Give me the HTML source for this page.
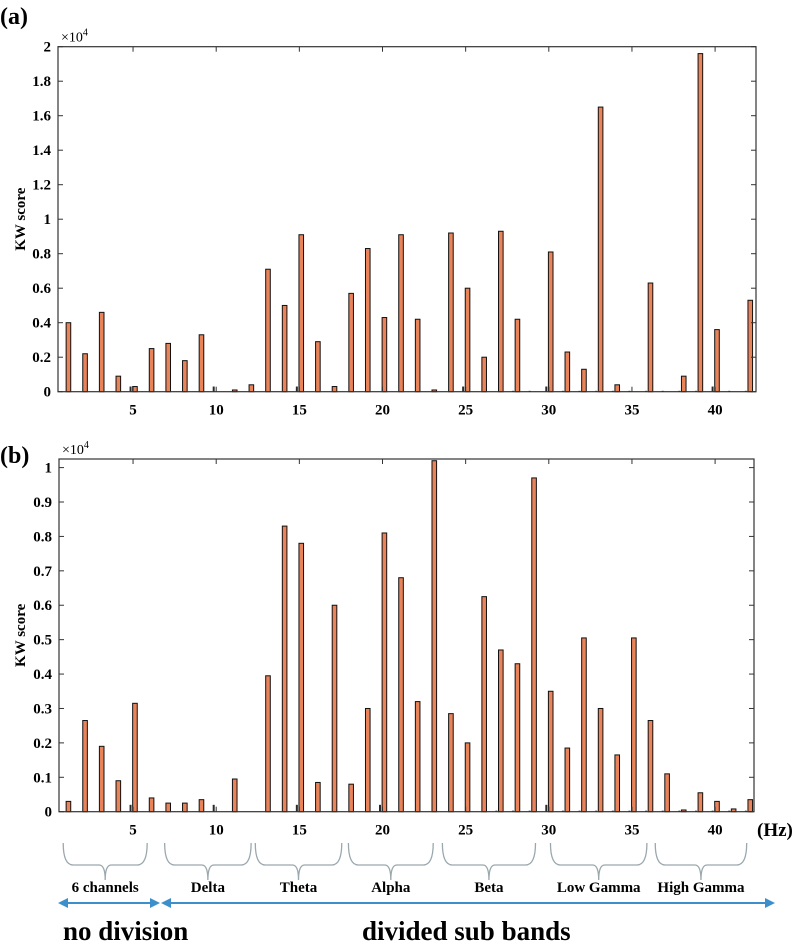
<!DOCTYPE html>
<html><head><meta charset="utf-8">
<style>
body{margin:0;background:#fff;width:800px;height:948px;overflow:hidden}
svg{display:block;font-family:"Liberation Serif",serif;font-weight:bold}
</style></head>
<body>
<svg id="s" width="800" height="948" viewBox="0 0 800 948">
<text x="0" y="24" font-size="24">(a)</text>
<text x="0" y="463" font-size="24">(b)</text>
<g id="ga"></g>
<g id="gb"></g>
<g id="ann"></g>
<text x="757" y="836" font-size="19">(Hz)</text>
<text x="63" y="940" font-size="27">no division</text>
<text x="362" y="940" font-size="27">divided sub bands</text>
</svg>
<script>
const NS="http://www.w3.org/2000/svg";
const categories=[1,2,3,4,5,6,7,8,9,10,11,12,13,14,15,16,17,18,19,20,21,22,23,24,25,26,27,28,29,30,31,32,33,34,35,36,37,38,39,40,41,42];
const valuesA=[0.40,0.22,0.46,0.09,0.03,0.25,0.28,0.18,0.33,0,0.01,0.04,0.71,0.50,0.91,0.29,0.03,0.57,0.83,0.43,0.91,0.42,0.01,0.92,0.60,0.20,0.93,0.42,0,0.81,0.23,0.13,1.65,0.04,0,0.63,0,0.09,1.96,0.36,0,0.53];
const minorA=[0,0,0,0,0.03,0,0,0,0,0.03,0,0,0,0,0.03,0,0,0,0,0,0,0,0,0,0.03,0,0,0.005,0.005,0.03,0.005,0.005,0.005,0.005,0.005,0.005,0.005,0.005,0.005,0.03,0.005,0.005];
const valuesB=[0.03,0.265,0.19,0.09,0.315,0.04,0.025,0.025,0.035,0,0.095,0,0.395,0.83,0.78,0.085,0.60,0.08,0.30,0.81,0.68,0.32,1.02,0.285,0.20,0.625,0.47,0.43,0.97,0.35,0.185,0.505,0.30,0.165,0.505,0.265,0.11,0.005,0.055,0.03,0.008,0.035];
const minorB=[0,0,0,0,0.02,0,0,0,0,0.02,0,0,0,0,0.02,0,0,0,0,0.02,0,0,0,0,0,0,0.003,0.003,0.003,0.02,0.003,0.003,0.003,0.003,0.003,0.003,0.003,0.003,0.003,0.003,0.003,0.003];
const xTicks=[5,10,15,20,25,30,35,40];
const yTicksA=[0,0.2,0.4,0.6,0.8,1,1.2,1.4,1.6,1.8,2];
const yTicksB=[0,0.1,0.2,0.3,0.4,0.5,0.6,0.7,0.8,0.9,1];
const bands=["6 channels","Delta","Theta","Alpha","Beta","Low Gamma","High Gamma"];
const bandStart=[0.8,6.9,12.35,17.95,23.6,30.1,36.4];
const bandEnd=[5.85,12.1,17.55,23.05,29.2,35.9,41.9];

function mk(tag,attrs,parent){const e=document.createElementNS(NS,tag);for(const k in attrs)e.setAttribute(k,attrs[k]);parent.appendChild(e);return e;}
const xs=v=>49.9+v*16.63;

function panel(g,top,bottom,left,right,ymax,yTicks,vals,minor,fmt,pfx){
  const ys=v=>bottom-(v/ymax)*(bottom-top);
  for(let i=0;i<categories.length;i++){
    const c=categories[i];
    if(minor[i]>0){const m=mk('rect',{x:xs(c)-3.5,y:ys(minor[i]),width:2,height:bottom-ys(minor[i]),fill:'#2a2a2a'},g);
      
      }
    if(vals[i]>0){const r=mk('rect',{x:xs(c)-0.4,y:ys(vals[i]),width:4.6,height:bottom-ys(vals[i]),fill:'#E8835A',stroke:'#111','stroke-width':1},g);
      
      }
  }
  const fr=mk('rect',{x:left,y:top,width:right-left,height:bottom-top,fill:'none',stroke:'#333','stroke-width':1.2},g);
  
  
  for(const t of xTicks){
    const x=xs(t);
    mk('line',{x1:x,x2:x,y1:bottom,y2:bottom-5,stroke:'#333'},g);
    mk('line',{x1:x,x2:x,y1:top,y2:top+5,stroke:'#333'},g);
    const tx=mk('text',{x:x,y:bottom+23,'font-size':15,'text-anchor':'middle'},g);tx.textContent=t;
    
    
  }
  for(const t of yTicks){
    const y=ys(t);
    mk('line',{x1:left,x2:left+5,y1:y,y2:y,stroke:'#333'},g);
    mk('line',{x1:right,x2:right-5,y1:y,y2:y,stroke:'#333'},g);
    const ty=mk('text',{x:left-7,y:y+5,'font-size':15,'text-anchor':'end'},g);ty.textContent=fmt(t);
    
    
  }
  const ex=mk('text',{x:left+3,y:top-5,'font-size':14,'font-weight':'normal'},g);
  ex.innerHTML='×10<tspan dy="-6" font-size="10">4</tspan>';
  
  
  const yl=mk('text',{x:0,y:0,'font-size':15,'text-anchor':'middle',transform:`translate(25,${(top+bottom)/2}) rotate(-90)`},g);yl.textContent='KW score';
  
  
}
panel(document.getElementById('ga'),46.7,391.7,58,756,2,yTicksA,valuesA,minorA,t=>t===0?'0':(Number.isInteger(t)?String(t):String(t)),'a');
panel(document.getElementById('gb'),459,811.7,59,754,1.025,yTicksB,valuesB,minorB,t=>t===0?'0':(t===1?'1':t.toFixed(1)),'b');

const ann=document.getElementById('ann');
for(let i=0;i<bands.length;i++){
  const x1=xs(bandStart[i]),x2=xs(bandEnd[i]),m=(x1+x2)/2;
  const d=`M${x1},843 Q${x1},865 ${x1+10},865 L${m-6},865 Q${m},865 ${m},880 Q${m},865 ${m+6},865 L${x2-10},865 Q${x2},865 ${x2},843`;
  const p=mk('path',{d:d,fill:'none',stroke:'#9aa8ae','stroke-width':1.3},ann);
  
  
  const t=mk('text',{x:m,y:892,'font-size':15,'text-anchor':'middle'},ann);t.textContent=bands[i];
  
  
}
function arrow(x1,x2,both,name){
  const g=mk('g',{},ann);
  
  
  mk('line',{x1:x1+6,x2:x2-6,y1:903,y2:903,stroke:'#3d8fcc','stroke-width':2},g);
  mk('polygon',{points:`${x2},903 ${x2-10},898 ${x2-10},908`,fill:'#3d8fcc'},g);
  mk('polygon',{points:`${x1},903 ${x1+10},898 ${x1+10},908`,fill:'#3d8fcc'},g);
}
arrow(58,160,true,'no-division-arrow');
arrow(161,775,true,'sub-bands-arrow');
</script>
</body></html>
